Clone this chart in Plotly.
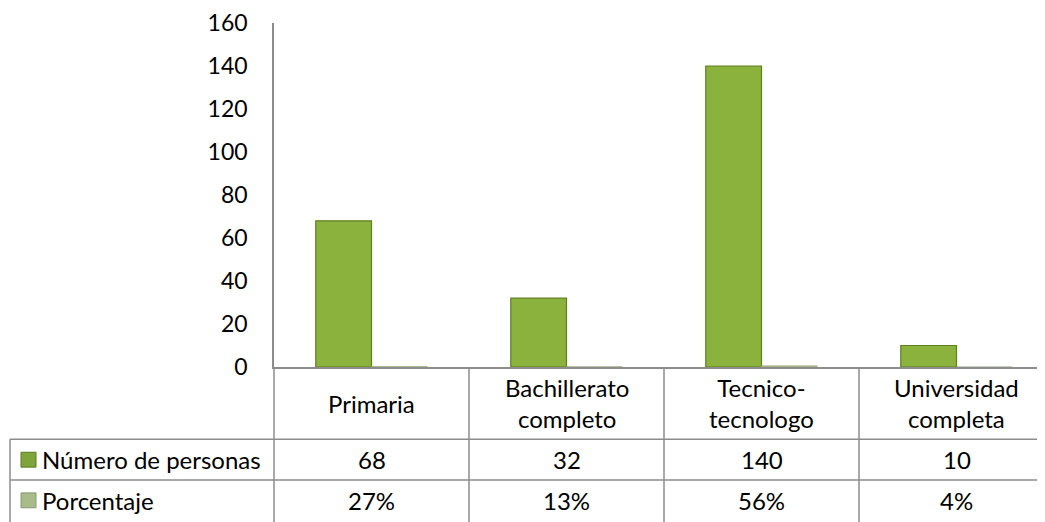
import plotly.graph_objects as go

categories = ["Primaria", "Bachillerato<br>completo", "Tecnico-<br>tecnologo", "Universidad<br>completa"]
series_names = ["Número de personas", "Porcentaje"]
personas = [68, 32, 140, 10]
porcentaje = [0.27, 0.13, 0.56, 0.04]
porcentaje_labels = ["27%", "13%", "56%", "4%"]
y_ticks = [0, 20, 40, 60, 80, 100, 120, 140, 160]

OFF = 8  # browser body margin
W, H = 1045 - OFF, 522 - OFF
L, R, T, B = 274 - OFF, 0, 20 - OFF, 155
pw, ph = W - L - R, H - T - B
FONT = "Lato"
FS = 24
TFS = 23
GRID = "#8c8c8c"

def py(y):  # screen pixel y -> paper y
    return (522 - B - y) / ph

def px(x):  # screen pixel x -> paper x
    return (x - 274) / pw

x_idx = list(range(len(categories)))

fig = go.Figure()
fig.add_trace(go.Bar(
    x=x_idx, y=personas, name=series_names[0],
    marker=dict(color="#8bb23c", line=dict(color="#5f7f1f", width=1.2)),
))
fig.add_trace(go.Bar(
    x=x_idx, y=porcentaje, name=series_names[1],
    marker=dict(color="#a9bd86", line=dict(color="#9aa888", width=0.6)),
))

shapes = []
annotations = []
left_tab = px(10)
bottom = py(530)

for yy in [py(440), py(481)]:
    shapes.append(dict(type="line", xref="paper", yref="paper", x0=left_tab, x1=1, y0=yy, y1=yy,
                       line=dict(color=GRID, width=1.5)))
shapes.append(dict(type="line", xref="paper", yref="paper", x0=left_tab, x1=left_tab, y0=py(440), y1=bottom,
                   line=dict(color=GRID, width=1.5)))
shapes.append(dict(type="line", xref="paper", yref="paper", x0=0, x1=0, y0=0, y1=bottom,
                   line=dict(color=GRID, width=1.5)))
for i in range(len(categories) - 1):
    shapes.append(dict(type="line", xref="x", yref="paper", x0=i + 0.5, x1=i + 0.5, y0=0, y1=bottom,
                       line=dict(color=GRID, width=1.5)))

for i, c in enumerate(categories):
    annotations.append(dict(x=i, y=(py(367) + py(440)) / 2, xref="x", yref="paper", text=c,
                            showarrow=False, font=dict(family=FONT, size=FS, color="#000"),
                            xanchor="center", yanchor="middle", align="center"))
for i in x_idx:
    annotations.append(dict(x=i, y=(py(440) + py(481)) / 2, xref="x", yref="paper", text=str(personas[i]),
                            showarrow=False, font=dict(family=FONT, size=FS, color="#000"),
                            xanchor="center", yanchor="middle"))
    annotations.append(dict(x=i, y=(py(481) + py(522)) / 2, xref="x", yref="paper", text=porcentaje_labels[i],
                            showarrow=False, font=dict(family=FONT, size=FS, color="#000"),
                            xanchor="center", yanchor="middle"))

key_colors = [("#7ea53a", "#5c7a22"), ("#a8bb88", "#8a9878")]
for r, (name, (fc, lc)) in enumerate(zip(series_names, key_colors)):
    cy = 440 + r * 41 + 20.5
    shapes.append(dict(type="rect", xref="paper", yref="paper", x0=px(21), x1=px(36), y0=py(cy - 7.5), y1=py(cy + 7.5),
                       fillcolor=fc, line=dict(color=lc, width=1)))
    annotations.append(dict(x=px(40), y=py(cy), xref="paper", yref="paper", text=name, showarrow=False,
                            font=dict(family=FONT, size=FS, color="#000"), xanchor="left", yanchor="middle"))

fig.update_layout(
    width=W, height=H,
    margin=dict(l=L, r=R, t=T, b=B, pad=0),
    paper_bgcolor="white", plot_bgcolor="white",
    barmode="group", bargap=0.4286, bargroupgap=0,
    showlegend=False,
    shapes=shapes, annotations=annotations,
    font=dict(family=FONT, size=FS, color="#000"),
)
fig.update_xaxes(range=[-0.5, -0.5 + pw / 195.0], showticklabels=False, showgrid=False, zeroline=False,
                 showline=True, linecolor=GRID, linewidth=1.5, ticks="")
fig.update_yaxes(range=[0, 160], tickvals=y_ticks, showgrid=False, zeroline=False,
                 showline=True, linecolor=GRID, linewidth=1.5, ticks="", ticklabelstandoff=20,
                 ticklabeloverflow="allow",
                 tickfont=dict(family=FONT, size=TFS, color="#000"))

fig.write_html("out.html")
